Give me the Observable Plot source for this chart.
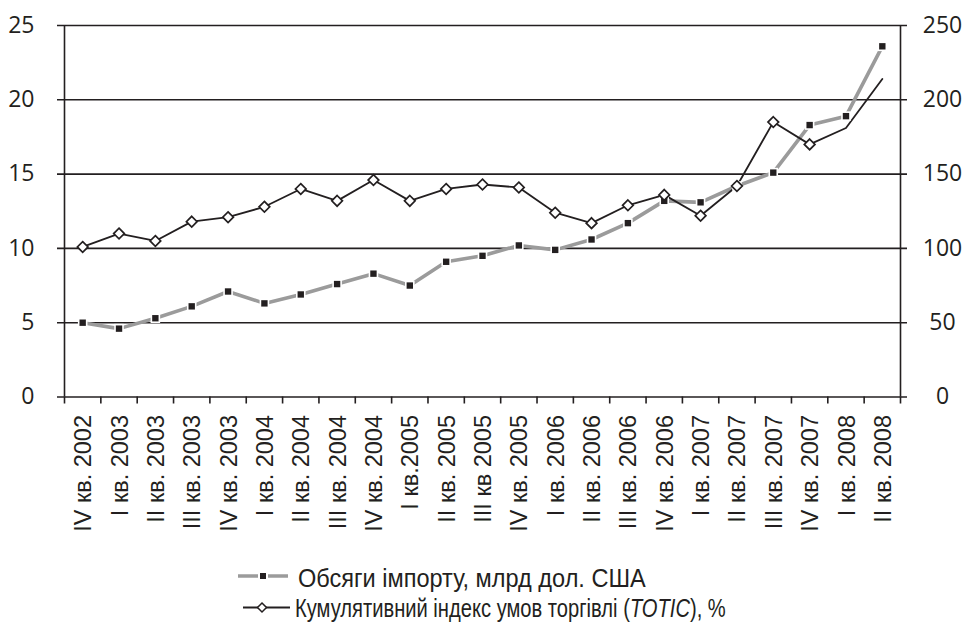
<!DOCTYPE html>
<html>
<head>
<meta charset="utf-8">
<script src="https://cdn.jsdelivr.net/npm/d3@7"></script>
<script src="https://cdn.jsdelivr.net/npm/@observablehq/plot@0.6"></script>
<style>
  html, body { margin: 0; padding: 0; background: #fff; }
  #chart svg { display: block; }
  #legend { display: block; }
</style>
</head>
<body>
<div id="chart"></div>
<svg id="legend" width="966" height="87"></svg>
<script>
const categories = [
  "IV кв. 2002", "I кв. 2003", "II кв. 2003", "III кв. 2003", "IV кв. 2003",
  "I кв. 2004", "II кв. 2004", "III кв. 2004", "IV кв. 2004", "I кв.2005",
  "II кв. 2005", "III кв 2005", "IV кв. 2005", "I кв. 2006", "II кв. 2006",
  "III кв. 2006", "IV кв. 2006", "I кв. 2007", "II кв. 2007", "III кв. 2007",
  "IV кв. 2007", "I кв. 2008", "II кв. 2008"
];
// Обсяги імпорту, млрд дол. США (left axis)
const imports = [5.0, 4.6, 5.3, 6.1, 7.1, 6.3, 6.9, 7.6, 8.3, 7.5, 9.1, 9.5, 10.2, 9.9, 10.6, 11.7, 13.2, 13.1, 14.2, 15.1, 18.3, 18.9, 23.6];
// Кумулятивний індекс умов торгівлі (TOTIC), % (right axis)
const totic = [101, 110, 105, 118, 121, 128, 140, 132, 146, 132, 140, 143, 141, 124, 117, 129, 136, 122, 142, 185, 170, 181, 214];
const toticMarkers = [1,1,1,1,1,1,1,1,1,1,1,1,1,1,1,1,1,1,1,1,1,0,0];
const leftTicks = [0, 5, 10, 15, 20, 25];
const rightTicks = [0, 50, 100, 150, 200, 250];
const legendLabels = ["Обсяги імпорту, млрд дол. США", "Кумулятивний індекс умов торгівлі (", "TOTIC", "), %"];

const ink = "#231f20";
const grayLine = "#9b9b9b";
const numFont = "'Open Sans', sans-serif";
const catFont = "'Liberation Sans', Arial, sans-serif";
const idx = (d, i) => i;
const bounds = d3.range(categories.length + 1).map(i => i - 0.5);

const plot = Plot.plot({
  width: 966,
  height: 540,
  marginLeft: 64,
  marginRight: 66,
  marginTop: 25,
  marginBottom: 143.5,
  x: { type: "linear", domain: [-0.5, categories.length - 0.5], axis: null },
  y: { domain: [0, 25], axis: null },
  marks: [
    Plot.ruleY(leftTicks, { stroke: ink, strokeWidth: 1.6, insetLeft: -7, insetRight: -7 }),
    Plot.ruleX([bounds[0], bounds[bounds.length - 1]], { stroke: ink, strokeWidth: 1.6 }),
    Plot.axisX({ ticks: bounds, tickSize: 7, tickFormat: () => "", stroke: ink, strokeWidth: 1.6 }),
    Plot.text(categories, {
      x: idx, frameAnchor: "bottom", text: d => d, rotate: -90,
      textAnchor: "end", lineAnchor: "middle", dy: 18, dx: 1,
      fontSize: 23.5, fontFamily: catFont, fill: ink
    }),
    Plot.text(leftTicks, {
      y: d => d, text: d => String(d), frameAnchor: "left", textAnchor: "end",
      dx: -30, fontSize: 23, fontFamily: numFont, fill: ink
    }),
    Plot.text(rightTicks, {
      y: d => d / 10, text: d => String(d), frameAnchor: "right", textAnchor: "middle",
      dx: 42, fontSize: 23, fontFamily: numFont, fill: ink
    }),
    Plot.line(imports, { x: idx, y: d => d, stroke: grayLine, strokeWidth: 3.6 }),
    Plot.line(totic, { x: idx, y: d => d / 10, stroke: ink, strokeWidth: 1.8 }),
    Plot.dot(imports, { x: idx, y: d => d, symbol: "square", r: 5.4, fill: "white", stroke: "none" }),
    Plot.dot(imports, { x: idx, y: d => d, symbol: "square", r: 3.6, fill: ink, stroke: "none" }),
    Plot.dot(totic, {
      x: idx, y: d => d / 10, filter: (d, i) => toticMarkers[i] === 1,
      symbol: "diamond2", r: 4.8, fill: "white", stroke: ink, strokeWidth: 1.7
    })
  ]
});
document.getElementById("chart").appendChild(plot);

// Legend (svg placed below the chart, its top at page y = 540)
const lg = d3.select("#legend");
const legFont = "'Liberation Sans', Arial, sans-serif";
function fitText(x, y, width, parts) {
  const g = lg.append("g");
  const t = g.append("text").attr("x", 0).attr("y", 0)
    .attr("font-family", legFont).attr("font-size", 26.5).attr("fill", ink);
  parts.forEach(([s, italic]) => {
    const ts = t.append("tspan").text(s);
    if (italic) ts.attr("font-style", "italic");
  });
  const natural = t.node().getComputedTextLength() || width;
  g.attr("transform", `translate(${x},${y}) scale(${width / natural},1)`);
}
// item 1
lg.append("line").attr("x1", 238).attr("x2", 288).attr("y1", 36).attr("y2", 36)
  .attr("stroke", grayLine).attr("stroke-width", 3.6);
lg.append("rect").attr("x", 258).attr("y", 31).attr("width", 10).attr("height", 10).attr("fill", "white");
lg.append("rect").attr("x", 260).attr("y", 33).attr("width", 6).attr("height", 6).attr("fill", ink);
fitText(298, 47, 348, [[legendLabels[0], false]]);
// item 2
lg.append("line").attr("x1", 243).attr("x2", 290).attr("y1", 67.5).attr("y2", 67.5)
  .attr("stroke", ink).attr("stroke-width", 1.8);
lg.append("path").attr("d", "M262,63 L266.5,67.5 L262,72 L257.5,67.5 Z")
  .attr("fill", "white").attr("stroke", ink).attr("stroke-width", 1.5);
fitText(295, 77, 431, [[legendLabels[1], false], [legendLabels[2], true], [legendLabels[3], false]]);
</script>
</body>
</html>
